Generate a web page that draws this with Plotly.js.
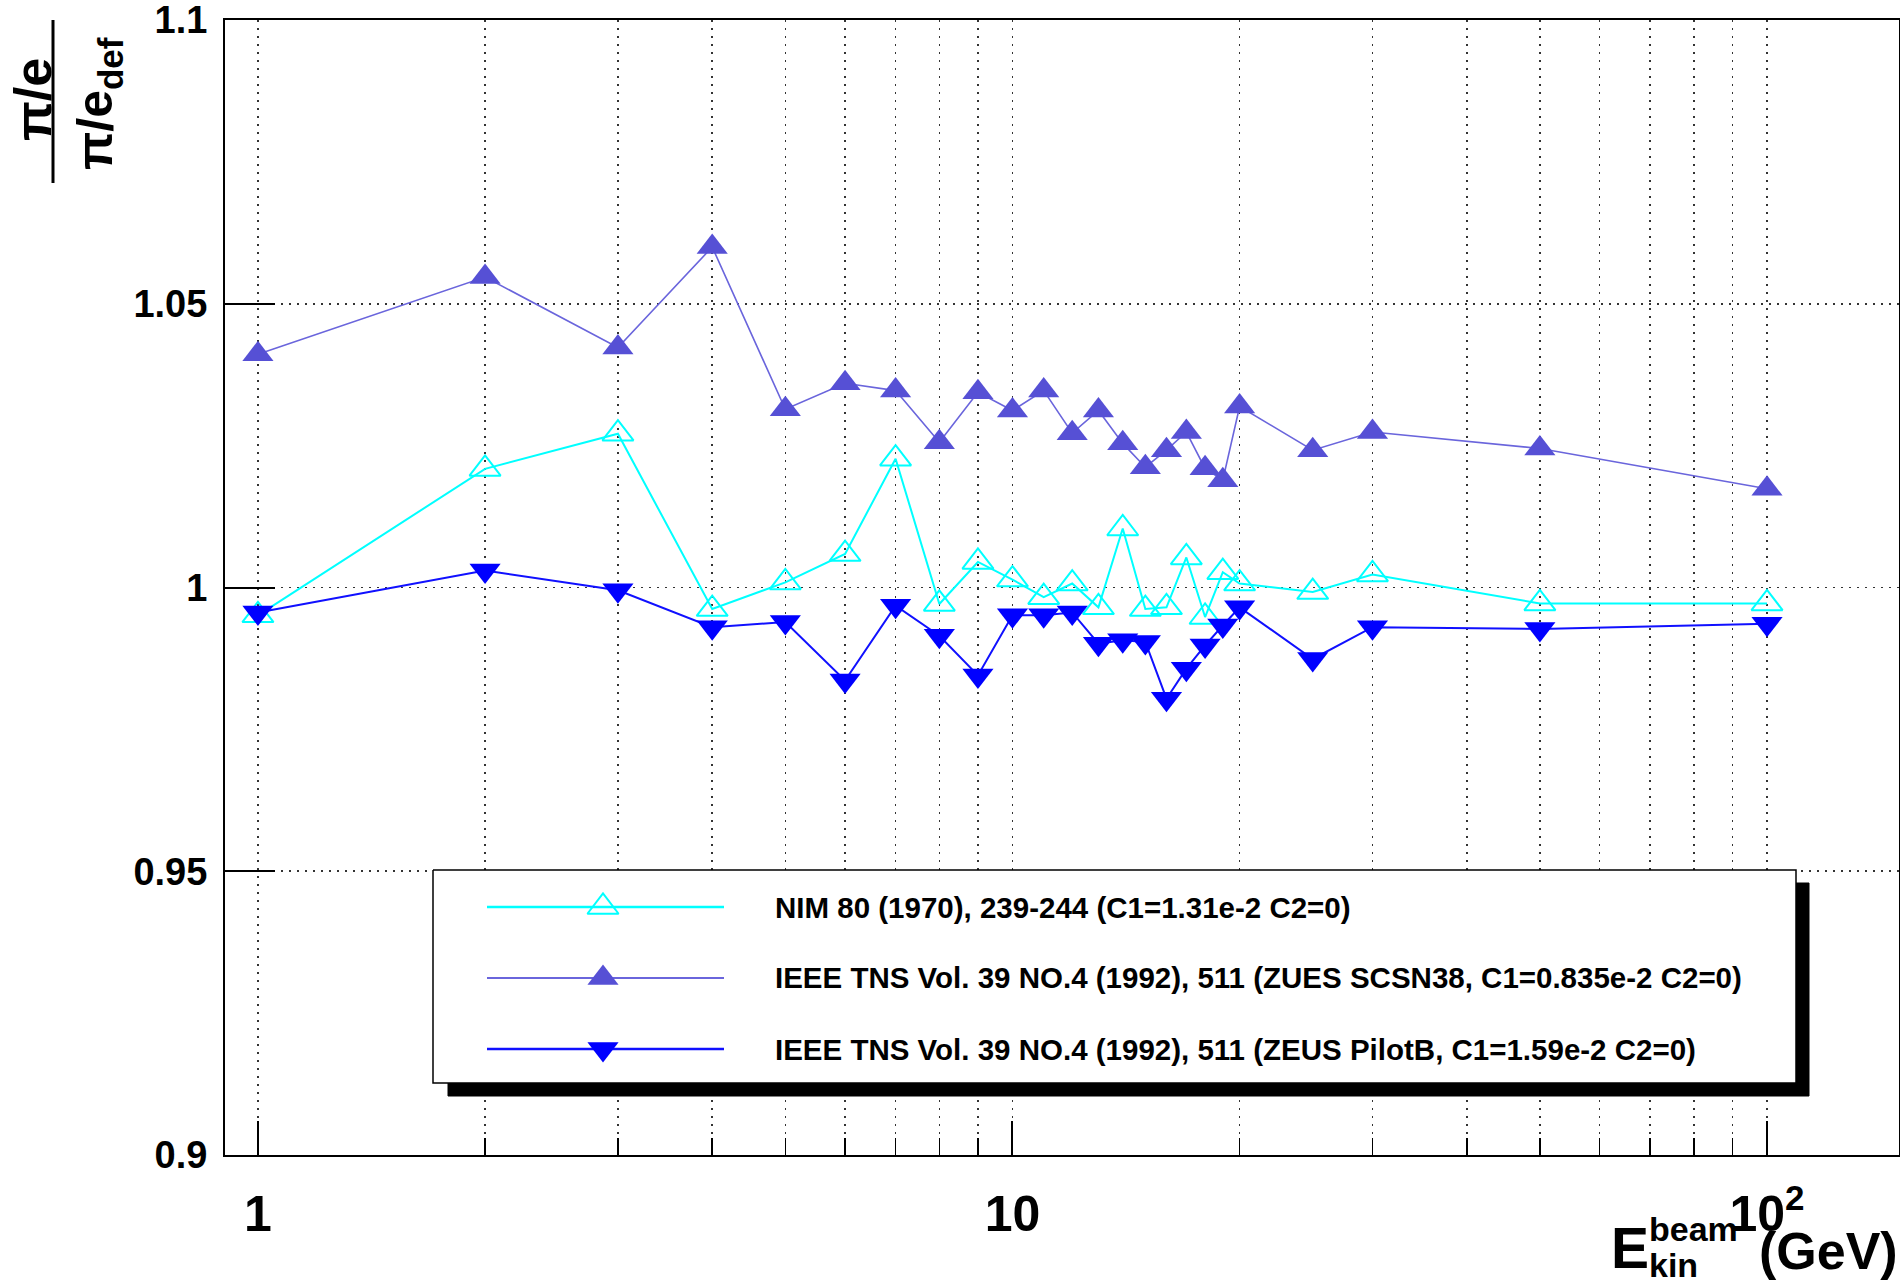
<!DOCTYPE html>
<html>
<head>
<meta charset="utf-8">
<script src="https://cdn.plot.ly/plotly-3.0.1.min.js"></script>
<style>
  html, body { margin: 0; padding: 0; background: #ffffff; }
  #chart { width: 1900px; height: 1285px; }
</style>
</head>
<body>
<div id="chart"></div>
<script>
// Beam kinetic energy (GeV)
const energy = [1, 2, 3, 4, 5, 6, 7, 8, 9, 10, 11, 12, 13, 14, 15, 16, 17, 18, 19, 20, 25, 30, 50, 100];

// (pi/e) divided by (pi/e)_def for each Birks parametrisation
const ratioNIM = [0.9951, 1.0209, 1.0271, 0.9962, 1.0009, 1.0059, 1.0227, 0.9971, 1.0045, 1.0014,
                  0.9983, 1.0007, 0.9965, 1.0104, 0.9962, 0.9965, 1.0053, 0.9948, 1.0027, 1.0007,
                  0.9992, 1.0023, 0.9972, 0.9972];
const ratioSCSN38 = [1.0411, 1.0547, 1.0423, 1.0600, 1.0314, 1.0360, 1.0347, 1.0256, 1.0344, 1.0312,
                     1.0347, 1.0272, 1.0312, 1.0254, 1.0212, 1.0242, 1.0274, 1.0210, 1.0189, 1.0319,
                     1.0242, 1.0274, 1.0245, 1.0174];
const ratioPilotB = [0.9956, 1.0030, 0.9995, 0.9930, 0.9939, 0.9836, 0.9968, 0.9915, 0.9845, 0.9951,
                     0.9951, 0.9956, 0.9901, 0.9907, 0.9904, 0.9804, 0.9857, 0.9898, 0.9933, 0.9965,
                     0.9874, 0.9930, 0.9927, 0.9936];

const seriesNames = [
  'NIM 80 (1970), 239-244 (C1=1.31e-2 C2=0)',
  'IEEE TNS Vol. 39 NO.4 (1992), 511 (ZUES SCSN38, C1=0.835e-2 C2=0)',
  'IEEE TNS Vol. 39 NO.4 (1992), 511 (ZEUS PilotB, C1=1.59e-2 C2=0)'
];

// Axis ticks
const xTickVals = [1, 10, 100];
const xTickText = ['1', '10', '10<sup>2</sup>'];
const xMinorVals = [2, 3, 4, 5, 6, 7, 8, 9, 20, 30, 40, 50, 60, 70, 80, 90];
const yTickVals = [0.9, 0.95, 1, 1.05, 1.1];
const yTickText = ['0.9', '0.95', '1', '1.05', '1.1'];

// ---- page geometry (pixels) ----
const W = 1900, H = 1285;
const M = { l: 225, r: 1, t: 20, b: 130 };
const PW = W - M.l - M.r, PH = H - M.t - M.b;
const px2x = px => (px - M.l) / PW;          // pixel -> paper x
const px2y = py => (H - M.b - py) / PH;      // pixel -> paper y

const FONT = 'Liberation Sans, Arial, Helvetica, sans-serif';
const font = (size) => ({ family: FONT, size: size, color: '#000000', weight: 700 });

const GRID_COLOR = '#333333';
const GRID_DASH = '2px,6px';

// Per-series look
const styles = [
  { marker: '#00ffff', symbol: 'triangle-up-open', line: '#00ffff', lw: 2 },
  { marker: '#5650d5', symbol: 'triangle-up', line: '#6a65dc', lw: 1.6 },
  { marker: '#0000ff', symbol: 'triangle-down', line: '#1010ff', lw: 2 }
];
const seriesValues = [ratioNIM, ratioSCSN38, ratioPilotB];
const MSIZE = 27;

const traces = seriesValues.map((vals, i) => ({
  type: 'scatter',
  mode: 'lines+markers',
  x: energy,
  y: vals,
  name: seriesNames[i],
  line: { color: styles[i].line, width: styles[i].lw },
  marker: {
    symbol: styles[i].symbol,
    size: MSIZE,
    color: styles[i].marker,
    line: { color: styles[i].marker, width: styles[i].symbol.endsWith('open') ? 2 : 0 }
  },
  showlegend: false,
  hoverinfo: 'x+y'
}));

// ---- legend box drawn on an overlay subplot in paper-fraction units ----
const LEG = { x0: 433, x1: 1796, y0: 870, y1: 1083, shadow: 13,
              lineX0: 487, lineX1: 724, markX: 603, textX: 773, rows: [907, 978, 1049] };

function rectTrace(x0, x1, y0, y1, fill, lineColor, lineWidth) {
  return {
    type: 'scatter', mode: 'lines', xaxis: 'x2', yaxis: 'y2',
    x: [px2x(x0), px2x(x1), px2x(x1), px2x(x0), px2x(x0)],
    y: [px2y(y0), px2y(y0), px2y(y1), px2y(y1), px2y(y0)],
    fill: 'toself', fillcolor: fill,
    line: { color: lineColor, width: lineWidth },
    showlegend: false, hoverinfo: 'skip'
  };
}

const legendTraces = [
  rectTrace(LEG.x0 + LEG.shadow + 2, LEG.x1 + LEG.shadow, LEG.y0 + LEG.shadow, LEG.y1 + LEG.shadow, '#000000', '#000000', 1),
  rectTrace(LEG.x0, LEG.x1, LEG.y0, LEG.y1, '#ffffff', '#000000', 1.5)
];
styles.forEach((s, i) => {
  const yy = px2y(LEG.rows[i]);
  legendTraces.push({
    type: 'scatter', mode: 'lines', xaxis: 'x2', yaxis: 'y2',
    x: [px2x(LEG.lineX0), px2x(LEG.lineX1)], y: [yy, yy],
    line: { color: s.line, width: s.lw + 0.6 },
    showlegend: false, hoverinfo: 'skip'
  });
  legendTraces.push({
    type: 'scatter', mode: 'markers', xaxis: 'x2', yaxis: 'y2',
    x: [px2x(LEG.markX)], y: [yy],
    marker: { symbol: s.symbol, size: MSIZE, color: s.marker,
              line: { color: s.marker, width: s.symbol.endsWith('open') ? 2 : 0 } },
    showlegend: false, hoverinfo: 'skip'
  });
});

const annotations = [];
seriesNames.forEach((name, i) => {
  annotations.push({
    xref: 'paper', yref: 'paper', x: px2x(LEG.textX), y: px2y(LEG.rows[i]),
    xanchor: 'left', yanchor: 'middle', showarrow: false,
    text: name, font: font(29.5)
  });
});

// y-axis title: fraction (pi/e) / (pi/e)_def
annotations.push({
  xref: 'paper', yref: 'paper', x: px2x(33), y: px2y(100),
  xanchor: 'center', yanchor: 'middle', showarrow: false, textangle: -90,
  text: 'π/e', font: font(52)
});
annotations.push({
  xref: 'paper', yref: 'paper', x: px2x(98), y: px2y(104),
  xanchor: 'center', yanchor: 'middle', showarrow: false, textangle: -90,
  text: 'π/e<sub>def</sub>', font: font(50)
});

// x-axis title: E_kin^beam (GeV)
annotations.push({
  xref: 'paper', yref: 'paper', x: px2x(1630), y: px2y(1248),
  xanchor: 'center', yanchor: 'middle', showarrow: false,
  text: 'E', font: font(57)
});
annotations.push({
  xref: 'paper', yref: 'paper', x: px2x(1647), y: px2y(1229),
  xanchor: 'left', yanchor: 'middle', showarrow: false,
  text: 'beam', font: font(34)
});
annotations.push({
  xref: 'paper', yref: 'paper', x: px2x(1647), y: px2y(1265),
  xanchor: 'left', yanchor: 'middle', showarrow: false,
  text: 'kin', font: font(34)
});
annotations.push({
  xref: 'paper', yref: 'paper', x: px2x(1828), y: px2y(1251),
  xanchor: 'center', yanchor: 'middle', showarrow: false,
  text: '(GeV)', font: font(52)
});

const shapes = [
  { type: 'line', xref: 'paper', yref: 'paper',
    x0: px2x(53), x1: px2x(53), y0: px2y(20), y1: px2y(183),
    line: { color: '#000000', width: 3 } }
];

const layout = {
  width: W, height: H,
  margin: M,
  paper_bgcolor: '#ffffff',
  plot_bgcolor: '#ffffff',
  showlegend: false,
  xaxis: {
    type: 'log',
    range: [Math.log10(0.9044), Math.log10(149.6)],
    showline: true, linecolor: '#000000', linewidth: 2, mirror: true,
    zeroline: false,
    tickmode: 'array', tickvals: xTickVals, ticktext: xTickText,
    ticks: 'inside', ticklen: 34, tickwidth: 2, tickcolor: '#000000',
    tickfont: font(50), ticklabelstandoff: 14, ticklabeloverflow: 'allow',
    showgrid: true, gridcolor: GRID_COLOR, gridwidth: 1.5, griddash: GRID_DASH,
    minor: {
      tickmode: 'array', tickvals: xMinorVals,
      ticks: 'inside', ticklen: 17, tickwidth: 1.5, tickcolor: '#000000',
      showgrid: true, gridcolor: GRID_COLOR, gridwidth: 1.5, griddash: GRID_DASH
    },
    fixedrange: true
  },
  yaxis: {
    range: [0.89999, 1.10001],
    showline: true, linecolor: '#000000', linewidth: 2, mirror: true,
    zeroline: false,
    tickmode: 'array', tickvals: yTickVals, ticktext: yTickText,
    ticks: 'inside', ticklen: 50, tickwidth: 2, tickcolor: '#000000',
    tickfont: font(38), ticklabelstandoff: 8, ticklabeloverflow: 'allow',
    showgrid: true, gridcolor: GRID_COLOR, gridwidth: 1.5, griddash: GRID_DASH,
    fixedrange: true
  },
  xaxis2: { overlaying: 'x', anchor: 'y2', range: [0, 1], visible: false, fixedrange: true },
  yaxis2: { overlaying: 'y', anchor: 'x2', range: [0, 1], visible: false, fixedrange: true },
  annotations: annotations,
  shapes: shapes
};

Plotly.newPlot('chart', traces.concat(legendTraces), layout, { displayModeBar: false, staticPlot: true });
</script>
</body>
</html>
